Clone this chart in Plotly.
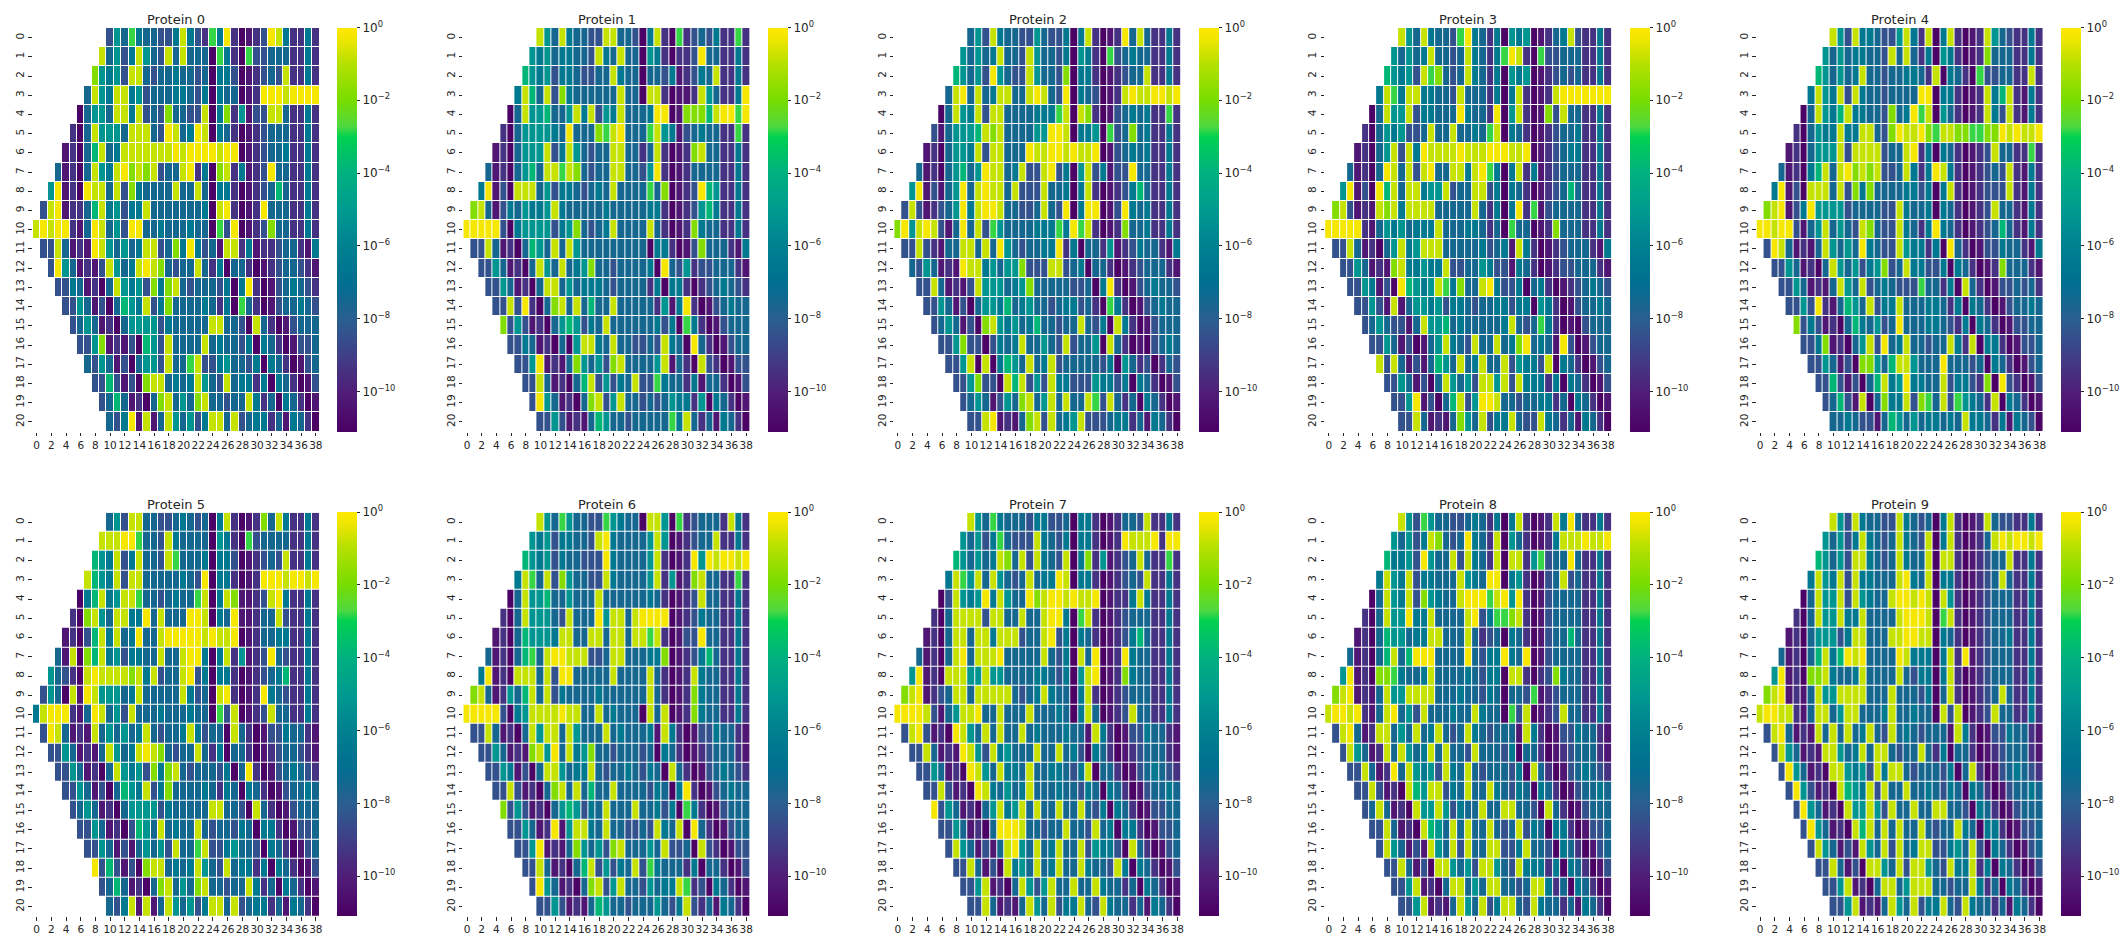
import plotly.graph_objects as go

W, H = 2123, 936
TITLES = ["Protein %d" % i for i in range(10)]
ROW_START = [10, 9, 8, 7, 6, 5, 4, 3, 2, 1, 0, 1, 2, 3, 4, 5, 6, 7, 8, 9, 10]
N_COLS = 39
X_TICKS = list(range(0, 39, 2))
Y_TICKS = list(range(21))
CBAR_TICKS = [0, -2, -4, -6, -8, -10]
CBAR_TEXT = ["10<sup>0</sup>", "10<sup>\u22122</sup>", "10<sup>\u22124</sup>",
             "10<sup>\u22126</sup>", "10<sup>\u22128</sup>", "10<sup>\u221210</sup>"]
# one character per cell: approximate log10 of the cell value
LOG10_OF = {"0": -0.2, "1": -0.8, "2": -1.8, "3": -2.8, "4": -3.8, "5": -5.2, "6": -6.5,
            "7": -7.5, "8": -8.4, "9": -9.4, "a": -10.3, "b": -11.0}

P0 = ["85736 77886 16893 609ba 98016 9969", "17586 15781 71777 b369b 38877 79969",
      "25658 11787 76778 7b668 ba987 81996 9", "71561 16587 77667 86b67 7ba90 00100 00",
      "b7557 11618 78277 881b6 295a8 81179 969", "9b715 55711 17801 7601b 679ba 98777 9969",
      "a9b74 17611 11111 01000 0100b a9877 69969", "7a9b7 15610 21218 77109 6b219 6a980 77996 9",
      "50a9b 01171 82677 77177 17b66 9ba98 74799 69", "810a9 97416 58661 77777 776b1 09ba9 07779 969",
      "10100 9a701 75800 77677 7677b 380ba 98277 9969", "8817a 9a015 75761 18726 0687a 1196a 99877 9a6",
      "8057a 9a815 76101 27877 1796b 779ba 98778 9a", "8867a 9b715 65826 21787 7786b 609ba 87678 9",
      "8857a 8b745 61862 77776 796b3 79ba8 77678", "8757a 9b755 55867 77771 1778b 179ba 8777",
      "8852a 9a8b4 58177 77176 7786b 679ba 887", "7857a 8b755 81773 18865 7786b 679ba 87",
      "8848a 8b211 76761 57817 6696b 679ba 8", "8747a 9b721 75721 77877 1697b 679ba",
      "7860a 1a715 75861 17187 6697a 679b"]
P1 = ["15716 77881 1778b 619b3 98786 9939", "56576 67781 67177 b569b 99807 79969",
      "45658 66788 77167 7b778 6a986 71996 9", "61471 82677 77771 77b11 9baa9 15799 60",
      "b7155 47751 61856 17776 00ba2 22410 030", "9b755 55670 77723 10777 3156a 87677 9939",
      "a9b75 55186 15787 71177 9719b a9217 79969", "7a9b7 54711 31278 77117 78509 ba977 77996 9",
      "60a8b 11175 86678 76717 77737 2ba98 04599 69", "217a8 67566 51677 77767 77776 69ba9 85469 969",
      "00000 8b655 55865 27876 17777 179ba 92677 9969", "8817a 9b745 71715 77777 7777b 669ba 82777 9a6",
      "8857a 9b715 71765 27787 7776b 07859 88777 9a", "8857a 9b711 75766 67877 7796b 669b9 87678 9",
      "88180 9b721 71747 71777 7795a 609ba 87677", "2858a 9b754 58671 77777 7686b 369ba 8777",
      "8867a 9b7b5 11671 77887 8167b 079ba 877", "8850a 9a725 75821 77775 1a79b 189ba 88",
      "8817a 9b741 85867 18836 7796a 779ba 8", "8057a 9b721 85177 87875 6695b 679ba",
      "8858a 9a745 77877 77736 1797a 679b"]
P2 = ["75816 77885 7886b 619ba 90717 9969", "57576 17781 57786 b569b 38767 79969",
      "45758 05788 15778 2b669 ba987 71996 9", "71071 76117 71017 80b67 8ba91 01100 10",
      "b7156 18117 77766 631b1 29ba8 76769 939", "8a755 54121 77775 5001b 665b3 87276 9969",
      "a9b75 56181 17770 11001 0110b a8767 69969", "7a9b7 54750 11761 88108 6b518 6a880 77996 9",
      "50a8a 75071 01171 88817 76b61 9ba98 64799 69", "818a9 87506 10017 78871 780b6 00ba8 06769 969",
      "20510 18a70 71835 77776 66360 319ba 92776 9969", "88189 a7711 71705 78776 6096b 7795a 98677 9a6",
      "7857a 9a011 65755 28881 1876b 779ba 98777 9a", "8817a 9a815 55765 27777 7887b 609ba 87677 8",
      "8857a 8b755 64765 77876 6879b 369ba 87677", "8757a 8b215 65764 77877 1786b 169ba 8777",
      "88528 8b867 61775 78187 75b17 9bab8 767", "8851b 1b645 71761 87777 786b5 798b9 78",
      "88528 8b141 85816 68885 6686b 679ba 8", "8757a 85721 75171 77138 1797b 679ba",
      "8810a 9a721 81765 18887 6697a 679b"]
P3 = ["15716 77830 6796b 565ba 97618 9969", "57576 17787 16796 3019b 38877 79969",
      "45658 13278 71679 6b565 ba987 87996 9", "61361 16677 81777 96b61 9ba91 00000 00",
      "b7155 18667 77067 790b5 19ba2 81779 969", "9b756 58871 77177 6731b 679ba 98776 9969",
      "a9b75 18160 11110 11100 0110b a9876 69969", "7a9b7 01718 10771 16103 6b619 6a987 77996 9",
      "50a8b 04171 16551 87711 86b67 9ba98 74799 69", "218a9 a1216 11117 77771 796b6 093a8 77779 969",
      "00000 9a756 57666 17776 6797b 377ba 92777 9969", "8817a 9b751 65111 77777 6876a 169ba 98777 9a6",
      "8857a 9a216 65661 88775 688a6 79ba9 88777 9a", "8856a 8b045 65136 27710 6886b 769ba 98767 8",
      "8858a 1a755 65866 78776 6866b 569ba 87767", "87578 8a715 54767 77776 17873 69bab 8777",
      "8857a 8ba75 16781 77176 20767 a08ba 877", "1817a 8a745 71761 77185 6681b 679ba 87",
      "8857a 8b715 75811 51816 6696b 679ba 8", "8850a 8b741 85001 77877 6697b 679ba",
      "8817a 9a725 71866 17881 6797a 679b"]
P4 = ["15816 67885 1691b 619ba 91578 9969", "57576 67781 71796 b569b a9277 79969",
      "45757 61778 77667 91b67 9b388 77991 9", "61561 81677 87777 00b66 9ba91 6419a 69",
      "b7156 41667 78276 031b5 79ba9 1681 9a69", "9b756 61661 17820 11023 11223 32201 0110",
      "a9b75 55181 11187 71096 b679b a9817 79939", "7a9b6 41710 21218 87169 6016 9ba98 7819a 69",
      "60a8b 11171 82627 77766 86b61 9ba98 8819a 69", "210a8 60555 58777 78816 776b6 79ba9 81779 a69",
      "00100 8a751 75781 27881 67960 679ba 98747 9a69", "8017a 9a715 75706 78815 6696b 079ba 88677 9a6",
      "8857a 9b715 75865 28716 6886b 679ba 92777 9a", "8857a 9a715 71876 78883 7796b 179ba 88787 9",
      "88580 9a745 71866 17776 6796b 679ba 87767", "2868a 9b746 75870 77766 7896b 679ba 8877",
      "8862a 9b751 80761 77877 1691b 669ba 887", "8857a 8b225 74115 77707 7787b 679ba 87",
      "8848a 8b741 65066 77186 6892b 089ba 8", "8748a 1b726 61823 71835 6791b 679ba",
      "77678 8a745 75766 76716 6796a 678b"]
P5 = ["75811 77887 6787b 619ba 92716 9969", "11100 37781 67777 b569b 38777 79969",
      "45618 61778 13777 6b668 ba987 81996 9", "14561 81177 77767 80b66 9ba90 00100 10",
      "b6416 51137 78767 731b6 12aa9 81069 969", "9b215 71166 07177 7001b 670aa 97718 9969",
      "a9b84 16176 07710 00001 0110b a9776 69969", "7a1b2 41658 66771 77100 6b619 5a980 78996 9",
      "5789b 10111 12161 87710 86b66 9ba98 76499 69", "857b1 a0155 57617 77771 687b1 09ba9 06789 969",
      "61000 9a701 75817 77677 7677b 381ba 98177 9969", "8017a 9a175 75761 78776 16877 b179b a8867 79a",
      "8857a 9a715 76101 27877 1796b 779ba 98778 9a", "8857a 9b715 65826 21787 7786b 709ba 87678 9",
      "8857a 8b745 61862 77776 7967b 679ba 87767", "8757a 9b755 55867 77771 1778b 179ba 8777",
      "8857a 9b845 71767 71787 7867b 669ba 887", "8857a 8a757 58177 31886 5778b 679ba 87",
      "0848a 8b211 76761 57817 6696b 679ba 8", "8747a 9b721 75721 77877 1697b 679ba",
      "7861a 1a715 75861 17187 6697a 679b"]
P6 = ["15735 77883 5677b 115b3 98777 9169", "56586 67781 06777 7515b a9877 19969",
      "45658 67788 80677 77519 ba905 01001 0", "61371 82577 88167 77751 95a92 17799 39",
      "b7155 47757 77177 77776 79ba9 81779 969", "9b715 55781 77705 11710 000ba 98677 9969",
      "a9b74 55561 17711 71171 1319b a8807 79969", "7a9b7 43710 01118 87117 77662 ba986 47996 9",
      "60a9b 11171 80077 77717 77717 9ba91 67799 69", "217a9 57417 18677 77677 77771 79ba9 26779 969",
      "00000 8b651 11101 17717 6777b 171ba 92677 9969", "8817a 9b715 11715 77717 67776 a169b a8867 79a",
      "8857a 9a215 07165 27787 7787b 679ba 98777 9a", "8856a 8b711 57661 78776 7867b 179ba 87678 9",
      "8818a 9b721 71747 71777 7867b 609ba 87677", "2858a 9b754 58671 77717 7686b 369ba 8777",
      "8857a 90a51 16717 78878 1671b 079ba 877", "8850a 9a725 75821 77757 1887b 189ba 88",
      "8817a 9b741 85867 18367 7796b 779ba 8", "8057a 9b721 85177 85766 1398b 679ba",
      "8858a 9a745 77877 75786 1897a 679b"]
P7 = ["15736 77786 6887b 669ba 97781 9969", "57586 37888 16786 b669b a9011 10900",
      "45757 61271 81678 1b629 5a987 17993 9", "61351 71578 71766 01b66 9ba98 78199 69",
      "b8156 50615 77021 00101 10ba9 96169 969", "9b711 11811 77177 1006b 319ba 98777 9969",
      "a9b71 17116 11187 71086 b679b a9864 79969", "7a9b7 10711 10777 77178 6b170 ba906 77996 9",
      "50a9b 11155 15577 77667 86b51 0ba92 67799 69", "210a9 87117 11111 78761 677b6 19ba9 87779 969",
      "00001 8a751 10771 77717 7767b 617ba 98177 9969", "8108a 9b015 71717 71767 77677 a169b a8867 79a",
      "8817a 9a015 81657 77177 1768b 679ba 98777 9a", "8857a 9b015 71667 17766 7861b 779ba 87678 9",
      "8818a 9b016 75761 77767 7867b 679ba 87767", "0857a 9b751 65171 77177 1786b 679ba 8877",
      "8857a 9b700 01778 77177 8176b 669ba 887", "8157a 8a710 57176 17718 5668b 179ba 87",
      "8817a 8b165 71761 77167 7816b 679ba 8", "8851a 9b715 85177 17716 7797b 679ba",
      "8817a 9a715 71866 17816 7797a 679b"]
P8 = ["15835 77887 6796b 619ba 91607 9969", "57586 12787 06791 b579b a9611 10110",
      "46658 05771 81679 1b119 53877 07996 9", "61561 86677 71567 00b65 9ba87 18799 69",
      "b7156 18256 77100 03105 09ba8 77779 969", "9b715 50661 77771 08633 219ba 87777 9969",
      "a9b74 55766 11777 17987 b679b a8774 79969", "7a9b7 41740 00777 70786 60670 ba877 77996 9",
      "50a9b 22367 76177 77678 66b11 9b982 67799 69", "210a9 a7155 11117 77677 867b7 783a9 87779 969",
      "10010 9a710 75817 77677 1677b 381ba 98177 9969", "8107a 91175 71761 78716 78777 a169b a8867 79a",
      "8157a 91715 76171 77817 7786b 779ba 98777 9a", "8817a 90715 65816 71787 7786b 179ba 87678 9",
      "8818a 9b145 11867 17716 7867b 679ba 87767", "8717a 9b155 15867 71771 1778b 179ba 8777",
      "8817a 9b145 71717 71787 1867b 669ba 887", "8157a 8a157 18177 11886 1778b 679ba 87",
      "8817a 8b115 75811 57816 6696b 679ba 8", "8851a 9b711 75711 77871 1697b 679ba",
      "8851a 9a715 71861 17816 7797a 679b"]
P9 = ["15816 77881 6787b 619ba 91788 9969", "57586 16787 16781 b619b a9710 10010",
      "45758 11678 71677 1b119 ba987 71996 9", "61561 81667 77106 71b66 9ba98 71799 69",
      "b7155 18156 77100 101b1 59ba9 87779 969", "9b715 51661 77771 0001b 319ba 98777 9969",
      "a9b75 55861 17771 10011 b679b a9877 69969", "7a9b7 41640 10777 70166 6b619 0a987 77996 9",
      "50a9b 22167 76177 77178 66b61 9ba98 77799 69", "210a9 a7155 11117 77177 786b7 19ba9 87179 969",
      "10011 9a711 75117 77617 7677b 181ba 98177 9969", "8107a 9a171 71761 78176 78777 a169b a8867 79a",
      "8157a 9a115 76171 17877 1796b 779ba 98777 9a", "8057a 9b115 65816 11787 7786b 719ba 87678 9",
      "8058a 9b145 61817 71776 7867b 679ba 87767", "8057a 9b155 15817 71771 1778b 679ba 8777",
      "8057a 9b141 71717 71787 7167b 669ba 887", "8157a 8a157 18176 11886 5718b 679ba 87",
      "8817a 8b115 71811 57816 6196b 679ba 8", "8851a 9b711 75111 77877 1697b 679ba",
      "8851a 9a715 71866 17816 7797a 679b"]
PANELS = [P0, P1, P2, P3, P4, P5, P6, P7, P8, P9]

ZMIN, ZMAX = -11.1, 0.0
STOPS = [(-11.1, "#4b0064"), (-10, "#501e78"), (-9, "#403f88"), (-8, "#2a5f90"),
         (-7, "#006f90"), (-6, "#008090"), (-5, "#009a90"), (-4, "#00b080"),
         (-3, "#00d050"), (-2.7, "#50d840"), (-2, "#78dc00"), (-1, "#b4e000"),
         (-0.3, "#f0e600"), (0, "#ffe800")]
COLORSCALE = [[(z - ZMIN) / (ZMAX - ZMIN), c] for z, c in STOPS]


def decode(rows):
    grid = []
    for r, text in enumerate(rows):
        s = text.replace(" ", "")
        start = ROW_START[r]
        vals = [LOG10_OF[ch] for ch in s][:N_COLS - start]
        row = [None] * start + vals
        row += [None] * (N_COLS - len(row))
        grid.append(row)
    return grid


PANEL_W, PANEL_H = 287, 403.5
LEFTS = [33, 464, 895.5, 1327, 1759]
TOPS = [28, 512.7]
CBAR_LEFTS = [337.3, 769, 1200.7, 1632.3, 2064]
TICK_FONT = dict(family="DejaVu Sans", size=10.5, color="#262626")

fig = go.Figure()
annotations = []
for k, rows in enumerate(PANELS):
    col, row = k % 5, k // 5
    ax = "" if k == 0 else str(k + 1)
    x0 = LEFTS[col] / W
    x1 = (LEFTS[col] + PANEL_W) / W
    y1 = 1 - TOPS[row] / H
    y0 = 1 - (TOPS[row] + PANEL_H) / H
    fig.add_trace(go.Heatmap(
        z=decode(rows), x=list(range(N_COLS)), y=list(range(21)),
        xaxis="x" + ax, yaxis="y" + ax, xgap=1, ygap=1,
        zmin=ZMIN, zmax=ZMAX, colorscale=COLORSCALE, hoverongaps=False,
        colorbar=dict(
            x=CBAR_LEFTS[col] / W, xanchor="left", xpad=0, ypad=0,
            y=y0, yanchor="bottom", len=PANEL_H / H, lenmode="fraction",
            thickness=20, thicknessmode="pixels",
            outlinewidth=0, tickmode="array", tickvals=CBAR_TICKS, ticktext=CBAR_TEXT,
            ticks="outside", ticklen=3.5, tickwidth=1, tickcolor="#262626",
            tickfont=dict(family="DejaVu Sans", size=12, color="#262626"),
        ),
    ))
    fig.layout["xaxis" + ax] = dict(
        domain=[x0, x1], anchor="y" + ax, range=[-0.5, 38.5], showgrid=False, zeroline=False,
        showline=False, tickmode="array", tickvals=X_TICKS, ticktext=[str(v) for v in X_TICKS],
        ticks="outside", ticklen=3.5, tickwidth=1, tickcolor="#262626", tickangle=0,
        tickfont=TICK_FONT,
    )
    fig.layout["yaxis" + ax] = dict(
        domain=[y0, y1], anchor="x" + ax, range=[20.5, -0.5], showgrid=False, zeroline=False,
        showline=False, tickmode="array", tickvals=Y_TICKS, ticktext=[str(v) for v in Y_TICKS],
        ticks="outside", ticklen=3.5, tickwidth=1, tickcolor="#262626", tickangle=-90,
        tickfont=TICK_FONT,
    )
    annotations.append(dict(
        text=TITLES[k], x=(x0 + x1) / 2, y=y1 - 1 / H, xref="paper", yref="paper",
        xanchor="center", yanchor="bottom", showarrow=False,
        font=dict(family="DejaVu Sans", size=13, color="#262626"),
    ))

fig.update_layout(width=W, height=H, margin=dict(l=0, r=0, t=0, b=0),
                  paper_bgcolor="white", plot_bgcolor="white",
                  annotations=annotations, showlegend=False)
fig.write_html("out.html", config={"displayModeBar": False},
               post_script="document.body.style.margin='0';document.documentElement.style.overflow='hidden';")
